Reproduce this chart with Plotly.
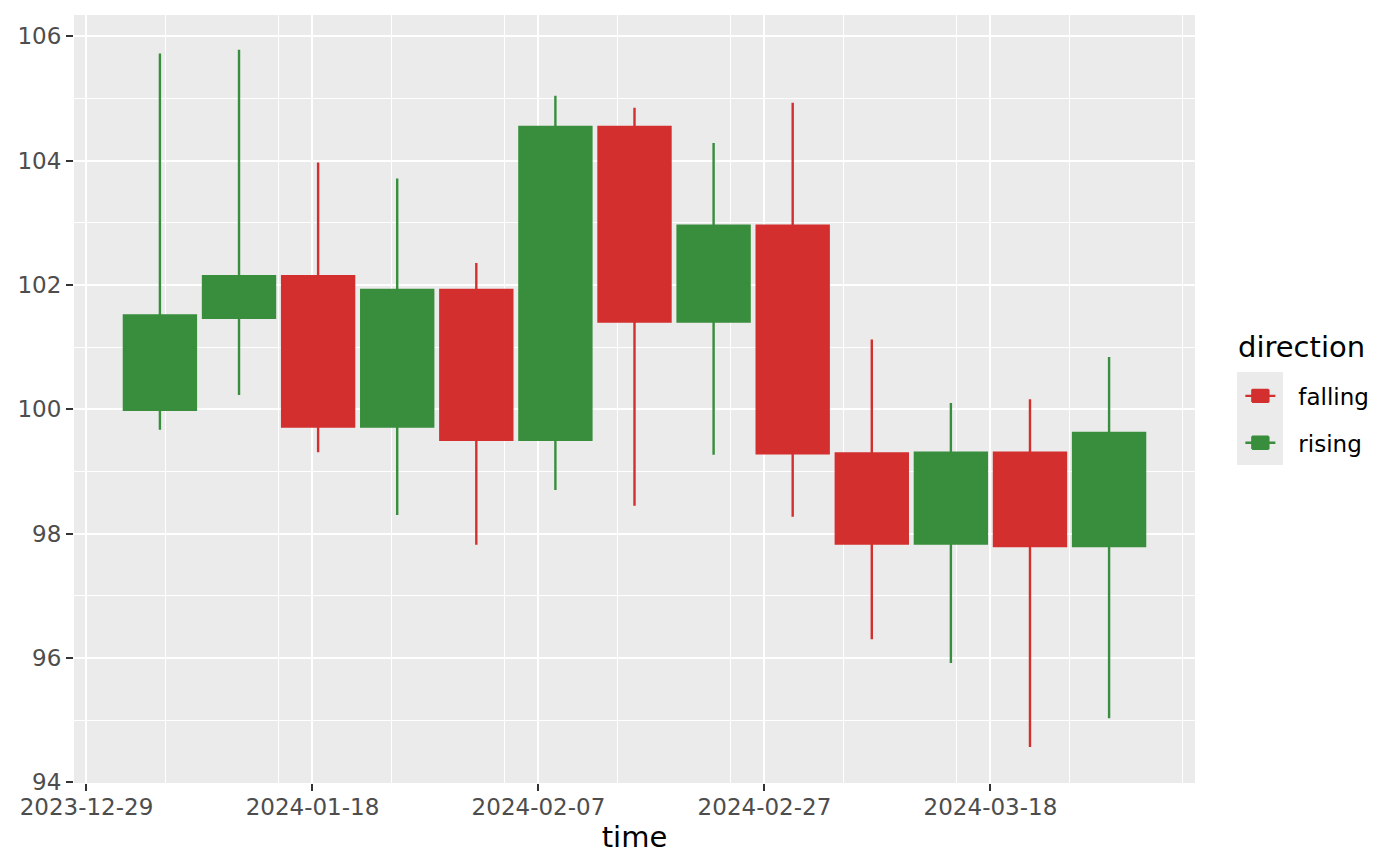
import plotly.graph_objects as go

# weekly candles
time = ["2024-01-04 12:00", "2024-01-11 12:00", "2024-01-18 12:00", "2024-01-25 12:00",
        "2024-02-01 12:00", "2024-02-08 12:00", "2024-02-15 12:00", "2024-02-22 12:00",
        "2024-02-29 12:00", "2024-03-07 12:00", "2024-03-14 12:00", "2024-03-21 12:00",
        "2024-03-28 12:00"]
open_ = [99.99, 101.47, 102.14, 99.72, 101.92, 99.51, 104.54, 101.41, 102.95, 99.29, 97.84, 99.30, 97.80]
high = [105.72, 105.78, 103.97, 103.71, 102.35, 105.04, 104.85, 104.28, 104.93, 101.12, 100.10, 100.16, 100.84]
low = [99.67, 100.23, 99.31, 98.30, 97.82, 98.70, 98.45, 99.27, 98.27, 96.30, 95.92, 94.57, 95.03]
close = [101.51, 102.14, 99.72, 101.92, 99.51, 104.54, 101.41, 102.95, 99.29, 97.84, 99.30, 97.80, 99.62]

directions = ["falling", "rising"]
colors = {"falling": "#D32F2F", "rising": "#388E3C"}

direction = ["rising" if c > o else "falling" for o, c in zip(open_, close)]

fig = go.Figure()
for d in directions:
    idx = [i for i, v in enumerate(direction) if v == d]
    col = colors[d]
    style = dict(line=dict(color=col, width=2.4), fillcolor=col)
    fig.add_trace(go.Candlestick(
        x=[time[i] for i in idx],
        open=[open_[i] for i in idx],
        high=[high[i] for i in idx],
        low=[low[i] for i in idx],
        close=[close[i] for i in idx],
        name=d, legendgroup=d,
        increasing=style, decreasing=style,
        whiskerwidth=0,
    ))

tickfont = dict(family="DejaVu Sans", size=23, color="#4D4D4D")
DAY = 86400000

# page body has an 8px margin, so the figure is a bit smaller than the window
fig.update_layout(
    width=1384, height=850,
    paper_bgcolor="white", plot_bgcolor="#EBEBEB",
    margin=dict(l=66, r=197, t=7, b=75),
    font=dict(family="DejaVu Sans", color="black"),
    boxgap=0.09, boxgroupgap=0,
    showlegend=True,
    legend=dict(
        font=dict(size=23, color="black"),
        x=1.0244, xanchor="left", y=0.532, yanchor="top",
        traceorder="grouped", tracegroupgap=14, itemwidth=66,
        bgcolor="rgba(0,0,0,0)",
    ),
    annotations=[dict(
        text="direction", xref="paper", yref="paper", x=1.037, y=0.543,
        xanchor="left", yanchor="bottom", showarrow=False,
        font=dict(size=29, color="black"),
    )],
    shapes=[dict(
        type="rect", xref="paper", yref="paper", layer="below",
        x0=1.0375, x1=1.0785, y0=0.414, y1=0.535,
        fillcolor="#EBEBEB", line=dict(width=0),
    )],
    xaxis=dict(
        type="date",
        range=["2023-12-27 21:30", "2024-04-05 02:30"],
        tick0="2023-12-29", dtick=20 * DAY, tickformat="%Y-%m-%d",
        ticks="outside", ticklen=7, tickwidth=2, tickcolor="#333333",
        tickfont=tickfont, ticklabelstandoff=-4,
        showgrid=True, gridcolor="white", gridwidth=2.4,
        minor=dict(dtick=10 * DAY, showgrid=True, gridcolor="white", gridwidth=1.2, ticks=""),
        zeroline=False, showline=False, automargin=False,
        rangeslider=dict(visible=False),
        title=dict(text="time", font=dict(size=29, color="black"), standoff=4),
    ),
    yaxis=dict(
        range=[93.99, 106.34],
        tick0=94, dtick=2,
        ticks="outside", ticklen=7, tickwidth=2, tickcolor="#333333",
        tickfont=tickfont, ticklabelstandoff=0,
        showgrid=True, gridcolor="white", gridwidth=2.4,
        minor=dict(dtick=1, showgrid=True, gridcolor="white", gridwidth=1.2, ticks=""),
        zeroline=False, showline=False, automargin=False,
    ),
)

fig.write_html("out.html")
